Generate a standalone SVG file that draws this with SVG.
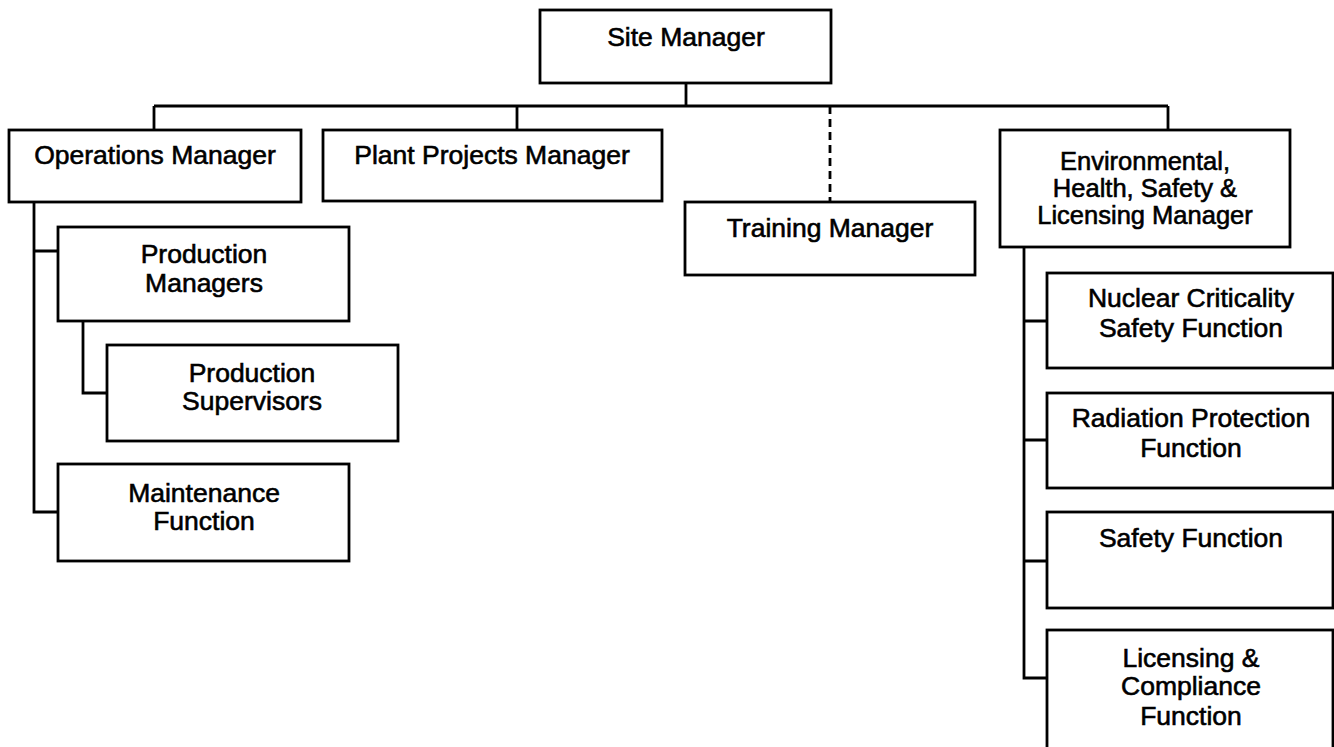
<svg xmlns="http://www.w3.org/2000/svg" width="1334" height="747" viewBox="0 0 1334 747">
<style>
.box{fill:#fff;stroke:#000;stroke-width:2.8}
.ln{fill:none;stroke:#000;stroke-width:2.8}
.dash{fill:none;stroke:#000;stroke-width:2.8;stroke-dasharray:8 5}
text{font-family:"Liberation Sans",Arial,sans-serif;font-size:26.5px;fill:#000;stroke:#000;stroke-width:0.6;text-anchor:middle}
.tight{font-size:25.5px}
</style>
<rect width="1334" height="747" fill="#fff"/>
<g id="connectors">
<path class="ln" d="M686 83V106M154 106H1168M154 106V130M517 106V130M1168 106V130"/>
<path class="dash" d="M830 106V202"/>
<path class="ln" d="M34 202V512H58M34 251H58M83 321V393H107"/>
<path class="ln" d="M1024 247V678H1047M1024 321H1047M1024 440H1047M1024 561H1047"/>
</g>
<g id="site-manager"><rect class="box" x="540" y="10" width="291" height="73"/><text x="686" y="46">Site Manager</text></g>
<g id="operations-manager"><rect class="box" x="9" y="130" width="292" height="72"/><text x="155" y="164">Operations Manager</text></g>
<g id="plant-projects-manager"><rect class="box" x="323" y="130" width="339" height="71"/><text x="492" y="164">Plant Projects Manager</text></g>
<g id="training-manager"><rect class="box" x="685" y="202" width="290" height="73"/><text x="830" y="237">Training Manager</text></g>
<g id="ehs-manager"><rect class="box" x="1000" y="130" width="290" height="117"/><text class="tight" x="1145" y="170">Environmental,</text><text class="tight" x="1145" y="197">Health, Safety &amp;</text><text class="tight" x="1145" y="224">Licensing Manager</text></g>
<g id="production-managers"><rect class="box" x="58" y="227" width="291" height="94"/><text x="204" y="263">Production</text><text x="204" y="292">Managers</text></g>
<g id="production-supervisors"><rect class="box" x="107" y="345" width="291" height="96"/><text x="252" y="382">Production</text><text x="252" y="410">Supervisors</text></g>
<g id="maintenance-function"><rect class="box" x="58" y="464" width="291" height="97"/><text x="204" y="502">Maintenance</text><text x="204" y="530">Function</text></g>
<g id="nuclear-criticality"><rect class="box" x="1047" y="273" width="286" height="95"/><text x="1191" y="307">Nuclear Criticality</text><text x="1191" y="337">Safety Function</text></g>
<g id="radiation-protection"><rect class="box" x="1047" y="393" width="286" height="95"/><text x="1191" y="427">Radiation Protection</text><text x="1191" y="457">Function</text></g>
<g id="safety-function"><rect class="box" x="1047" y="512" width="286" height="96"/><text x="1191" y="547">Safety Function</text></g>
<g id="licensing-compliance"><rect class="box" x="1047" y="630" width="286" height="140"/><text x="1191" y="667">Licensing &amp;</text><text x="1191" y="695">Compliance</text><text x="1191" y="725">Function</text></g>
</svg>
